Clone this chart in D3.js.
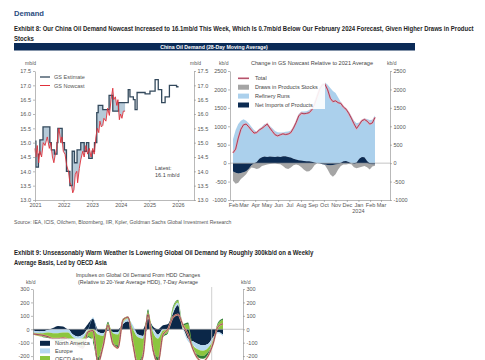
<!DOCTYPE html>
<html><head><meta charset="utf-8">
<script src="https://cdn.jsdelivr.net/npm/d3@7"></script>
<style>
body{margin:0;background:#fff}
svg{display:block;font-family:"Liberation Sans",Arial,sans-serif}
</style>
</head><body>
<svg id="c" width="485" height="360"></svg>
<script>
// ---------------- DATA ----------------
// Exhibit 8, left panel: China oil demand, mb/d
const estYears = [2021.00,2021.03,2021.12,2021.17,2021.28,2021.52,2021.57,2021.68,2021.77,2021.80,2021.95,
  2022.03,2022.10,2022.22,2022.30,2022.38,2022.47,2022.60,2022.72,2022.80,2022.88,
  2023.00,2023.08,2023.16,2023.21,2023.37,2023.59,2023.72,2023.92,
  2024.26,2024.32,2024.44,2024.50,2024.57,2024.85,
  2025.02,2025.20,2025.31,2025.43,2025.55,2025.70,2025.95,2026.02];
const estValues = [15.05,14.15,14.6,15.1,15.55,15.0,14.75,14.6,15.0,15.5,15.0,
  14.75,14.0,13.5,14.7,14.3,14.75,15.0,14.7,15.0,14.45,
  14.7,15.0,16.05,16.3,16.15,16.65,16.1,16.4,
  16.85,16.6,16.5,16.15,16.75,16.7,
  16.8,17.2,16.85,16.4,16.6,17.0,16.95,16.95];
const nowYears = [2021.00,2021.03,2021.08,2021.13,2021.17,2021.23,2021.29,2021.35,2021.43,2021.50,
  2021.55,2021.61,2021.66,2021.71,2021.76,2021.80,2021.84,2021.90,2021.94,2021.99,
  2022.05,2022.11,2022.17,2022.22,2022.28,2022.32,2022.36,2022.41,2022.46,2022.49,
  2022.55,2022.60,2022.67,2022.72,2022.78,2022.84,2022.90,2022.96,
  2023.02,2023.07,2023.13,2023.18,2023.23,2023.27,2023.32,2023.37,2023.41,2023.48,
  2023.54,2023.60,2023.66,2023.72,2023.75,2023.81,2023.86,2023.90,2023.95,2023.99,
  2024.04,2024.09,2024.15];
const nowValues = [14.8,14.5,14.9,14.3,14.7,14.5,15.0,14.9,15.2,14.8,
  15.0,14.5,14.3,14.6,14.8,15.3,15.5,15.0,15.2,14.7,
  14.6,14.2,14.0,13.6,13.5,13.25,13.35,13.9,14.0,13.6,
  14.1,14.4,14.7,14.5,14.9,14.6,14.8,14.5,
  14.8,14.6,15.2,15.5,15.35,15.75,15.55,15.6,15.85,15.75,
  16.2,15.95,16.5,16.9,16.5,16.6,16.3,16.5,15.8,16.0,
  15.85,16.1,16.1];
const leftYTicks = [13.0,13.5,14.0,14.5,15.0,15.5,16.0,16.5,17.0,17.5];
const leftXTicks = [2021,2022,2023,2024,2025,2026];

// Exhibit 8, right panel: change vs 2021 average, kb/d (weekly from 1 Feb 2023)
const chgStart = "2023-02-01";
const chgTotal = [280,380,680,920,1040,1060,985,895,815,830,
  900,945,1000,1060,955,860,770,740,770,795,
  775,790,830,950,1100,1280,1355,1340,1350,1370,
  1450,1590,1800,2010,2125,2140,1990,1760,1670,1690,
  1640,1620,1520,1465,1355,1220,1070,940,1040,1150,
  1185,1140,1060,1090,1240];
const chgRefinery = [650,900,1060,1150,1190,1150,1080,990,900,820,
  810,830,880,900,830,775,700,660,660,645,
  665,690,735,870,1050,1250,1330,1340,1360,1390,
  1470,1680,1900,2080,2170,2190,2130,2040,1960,1900,
  1780,1650,1500,1420,1370,1280,1150,1065,980,1005,
  1050,1140,1170,1180,1290];
const chgImports = [-230,-260,-280,-270,-250,-220,-150,-60,-10,30,
  120,160,180,170,180,175,170,180,170,185,
  190,170,150,120,100,80,70,60,50,50,
  40,20,0,-10,-30,-40,-50,-60,-50,-40,
  -20,10,50,60,30,0,-20,20,120,170,
  160,60,-20,-30,-30];
const chgDraws = [-250,-300,-250,-160,-120,-80,-40,-60,-120,-160,
  -140,-80,-60,-40,-20,-10,0,-20,-30,-80,
  -140,-160,-120,-60,-40,-60,-110,-180,-230,-220,
  -160,-60,0,0,0,-20,-120,-250,-320,-260,
  -150,-80,-40,-40,-20,-30,-90,-140,-120,-100,
  -80,-110,-150,-60,-40];
const chgYTicks = [-1000,-500,0,500,1000,1500,2000,2500];

// Exhibit 9: HDD impulses, kb/d (every 4 days)
const hddStart = "2023-10-01";
const hddNA = [-10,-15,-15,-5,10,25,20,0,-40,-55,
  -40,40,80,-20,-30,-10,-20,-20,40,60,
  0,-40,-50,80,20,-40,30,40,120,180,
  0,-70,-90,-110,-120,-110,-60,-20,-40];
const hddEurope = [-15,-15,-15,-20,-30,-30,-25,-25,-20,-20,
  -25,-10,10,-20,-20,5,-10,-20,10,20,
  30,-20,-20,10,-20,-30,-10,0,20,20,
  10,-20,-30,-40,-40,-30,-20,-10,-10];
const hddAsia = [-15,-20,-25,-30,-40,-50,-45,-40,-30,-40,
  -60,-40,-80,-170,-60,40,-70,-80,20,10,
  -100,-180,-100,40,-120,-140,-40,-20,20,15,
  20,40,-20,-40,-40,-30,-20,40,70];
const hddOther = [0,0,-5,-10,-10,-15,-15,-10,-10,-10,
  -15,-10,-20,-40,-20,10,-20,-20,10,5,
  -30,-50,-30,20,-30,-40,-10,-10,10,5,
  10,10,-10,-20,-20,-20,-10,10,10];
const hddTotal = [-35,-40,-45,-55,-70,-70,-65,-75,-95,-125,
  -140,-20,-10,-250,-130,30,-110,-140,70,90,
  -110,-280,-200,110,-150,-250,-40,0,90,110,
  30,-40,-150,-220,-240,-200,-110,20,40];
const hddYTicks = [-200,-100,0,100,200,300];

// ---------------- DRAW ----------------
const svg = d3.select("#c");
const FS = 5.5;
function text(x, y, s, o = {}) {
  const t = svg.append("text").attr("x", x).attr("y", y).text(s)
    .attr("font-size", o.size || FS).attr("fill", o.fill || "#444")
    .attr("text-anchor", o.anchor || "start");
  if (o.weight) t.attr("font-weight", o.weight);
  return t;
}
// bold heading squeezed horizontally to a target width
function fitText(x, y, s, width, size) {
  const t = svg.append("text").attr("x", x).attr("y", y).text(s)
    .attr("font-weight", "bold").attr("fill", "#1e1e1e").attr("font-size", size);
  const w = t.node().getComputedTextLength();
  if (w > width) t.attr("transform", `translate(${x},0) scale(${width / w},1) translate(${-x},0)`);
  return t;
}
function styleAxis(g) {
  g.selectAll("path,line").attr("stroke", "#8a8a8a").attr("stroke-width", 0.6);
  g.selectAll("text").attr("font-size", FS).attr("fill", "#555")
    .attr("font-family", '"Liberation Sans",Arial,sans-serif');
}

// Headings
text(14, 16, "Demand", {size: 7.6, weight: "bold", fill: "#2a4d7f"});
fitText(14, 31, "Exhibit 8: Our China Oil Demand Nowcast Increased to 16.1mb/d This Week, Which Is 0.7mb/d Below Our February 2024 Forecast, Given Higher Draws in Product", 460, 6.5);
fitText(14, 41, "Stocks", 20, 6.5);
svg.append("rect").attr("x", 14).attr("y", 43).attr("width", 401).attr("height", 7.5).attr("fill", "#0b2b57");
text(214, 48.8, "China Oil Demand (28-Day Moving Average)", {size: 5.2, weight: "bold", fill: "#fff", anchor: "middle"});

// ---- Left panel ----
const lx = d3.scaleLinear().domain([2021, 2026.56]).range([35, 194]);
const ly = d3.scaleLinear().domain([13, 17.5]).range([200, 71]);
const estData = estYears.map((y, i) => [y, estValues[i]]);
const nowData = nowYears.map((y, i) => [y, nowValues[i]]);

// fill between estimate (step) and nowcast
function estAt(x) { let v = estValues[0]; for (let i = 0; i < estYears.length; i++) { if (estYears[i] <= x) v = estValues[i]; } return v; }
function nowAt(x) {
  for (let i = 1; i < nowYears.length; i++) if (x <= nowYears[i]) {
    const t = (x - nowYears[i-1]) / (nowYears[i] - nowYears[i-1]);
    return nowValues[i-1] + t * (nowValues[i] - nowValues[i-1]);
  }
  return nowValues[nowValues.length - 1];
}
const x0 = nowYears[0], x1 = nowYears[nowYears.length - 1];
let xs = nowYears.slice();
estYears.forEach(e => { if (e > x0 && e < x1) { xs.push(e - 1e-6); xs.push(e); } });
xs.sort((a, b) => a - b);
const band = xs.map(x => ({x, e: estAt(x), n: nowAt(x)}));
svg.append("path").datum(band)
  .attr("d", d3.area().x(d => lx(d.x)).y0(d => ly(d.e)).y1(d => ly(d.n)))
  .attr("fill", "#a9c1d1").attr("opacity", 0.85);

svg.append("path").datum(estData)
  .attr("d", d3.line().x(d => lx(d[0])).y(d => ly(d[1])).curve(d3.curveStepAfter))
  .attr("fill", "none").attr("stroke", "#33495c").attr("stroke-width", 1.3);
svg.append("path").datum(nowData)
  .attr("d", d3.line().x(d => lx(d[0])).y(d => ly(d[1])))
  .attr("fill", "none").attr("stroke", "#e0303a").attr("stroke-width", 0.9);

styleAxis(svg.append("g").attr("transform", "translate(35,0)")
  .call(d3.axisLeft(ly).tickValues(leftYTicks).tickFormat(d3.format(".1f")).tickSize(2).tickSizeOuter(0).tickPadding(2)));
styleAxis(svg.append("g").attr("transform", "translate(194,0)")
  .call(d3.axisRight(ly).tickValues(leftYTicks).tickFormat(d3.format(".1f")).tickSize(2).tickSizeOuter(0).tickPadding(1.5)));
styleAxis(svg.append("g").attr("transform", "translate(0,200)")
  .call(d3.axisBottom(lx).tickValues(leftXTicks).tickFormat(d3.format("d")).tickSize(2).tickSizeOuter(0).tickPadding(1.5)));
text(25, 65, "mb/d", {size: 5, fill: "#555"});
text(190, 65, "mb/d", {size: 5, fill: "#555"});
// legend
svg.append("line").attr("x1", 40).attr("x2", 50).attr("y1", 77).attr("y2", 77).attr("stroke", "#33495c").attr("stroke-width", 1.3);
text(54, 79, "GS Estimate", {fill: "#555"});
svg.append("line").attr("x1", 40).attr("x2", 50).attr("y1", 85.5).attr("y2", 85.5).attr("stroke", "#e0303a").attr("stroke-width", 1);
text(54, 87.5, "GS Nowcast", {fill: "#555"});
text(155, 170, "Latest:", {fill: "#444"});
text(155, 177, "16.1 mb/d", {fill: "#444"});

// ---- Right panel ----
const parse = d3.timeParse("%Y-%m-%d");
const cStart = parse(chgStart);
const chgDates = chgTotal.map((_, i) => d3.timeDay.offset(cStart, 7 * i));
const rx = d3.scaleTime().domain([new Date(2023, 0, 24), new Date(2024, 2, 25)]).range([230, 390]);
const ry = d3.scaleLinear().domain([-1000, 2500]).range([200, 71]);
const rows = chgDates.map((d, i) => ({date: d, imports: chgImports[i], draws: chgDraws[i], refinery: chgRefinery[i]}));
const stack = d3.stack().keys(["imports", "draws", "refinery"]).offset(d3.stackOffsetDiverging)(rows);
const rColor = {imports: "#0c2b52", draws: "#a5a5a5", refinery: "#abd0ec"};
const rArea = d3.area().x(d => rx(d.data.date)).y0(d => ry(d[0])).y1(d => ry(d[1]));
["refinery", "draws", "imports"].forEach(k => {
  const s = stack.find(s => s.key === k);
  svg.append("path").datum(s).attr("d", rArea).attr("fill", rColor[k]);
});
svg.append("line").attr("x1", 230).attr("x2", 390).attr("y1", ry(0)).attr("y2", ry(0)).attr("stroke", "#9a9a9a").attr("stroke-width", 0.6);
const totLine = d3.line().x((d, i) => rx(chgDates[i])).y(d => ry(d));
svg.append("path").datum(chgTotal).attr("d", totLine).attr("fill", "none").attr("stroke", "#e8a9b6").attr("stroke-width", 2);
svg.append("path").datum(chgTotal).attr("d", totLine).attr("fill", "none").attr("stroke", "#9e3350").attr("stroke-width", 0.9);

styleAxis(svg.append("g").attr("transform", "translate(230,0)")
  .call(d3.axisLeft(ry).tickValues(chgYTicks).tickFormat(d => String(d)).tickSize(2).tickSizeOuter(0).tickPadding(1.5)));
styleAxis(svg.append("g").attr("transform", "translate(390,0)")
  .call(d3.axisRight(ry).tickValues(chgYTicks).tickFormat(d => String(d)).tickSize(2).tickSizeOuter(0).tickPadding(1.5)));
styleAxis(svg.append("g").attr("transform", "translate(0,200)")
  .call(d3.axisBottom(rx).ticks(d3.timeMonth.every(1)).tickFormat(d3.timeFormat("%b")).tickSize(2).tickSizeOuter(0).tickPadding(1.5)));
text(rx(new Date(2024, 0, 1)), 213, "2024", {fill: "#555", anchor: "middle"});
text(219, 65, "kb/d", {size: 5, fill: "#555"});
text(387, 65, "kb/d", {size: 5, fill: "#555"});
text(312, 65, "Change in GS Nowcast Relative to 2021 Average", {size: 5.6, fill: "#444", anchor: "middle"});
// legend
svg.append("rect").attr("x", 234).attr("y", 73).attr("width", 91).attr("height", 36).attr("fill", "#fff").attr("opacity", 0.9);
const rLeg = [["Total", "line"], ["Draws in Products Stocks", "draws"], ["Refinery Runs", "refinery"], ["Net Imports of Products", "imports"]];
rLeg.forEach((l, i) => {
  const cy = 78.3 + i * 8.9;
  if (l[1] === "line") {
    svg.append("line").attr("x1", 238).attr("x2", 249).attr("y1", cy).attr("y2", cy).attr("stroke", "#e8a9b6").attr("stroke-width", 2);
    svg.append("line").attr("x1", 238).attr("x2", 249).attr("y1", cy).attr("y2", cy).attr("stroke", "#9e3350").attr("stroke-width", 0.9);
  } else {
    svg.append("rect").attr("x", 238).attr("y", cy - 2.5).attr("width", 11).attr("height", 5).attr("fill", rColor[l[1]]);
  }
  text(255, cy + 2, l[0], {fill: "#444"});
});

text(14, 224, "Source: IEA, ICIS, Oilchem, Bloomberg, IIR, Kpler, Goldman Sachs Global Investment Research", {size: 5.1, fill: "#555"});

// ---- Exhibit 9 ----
fitText(14, 255, "Exhibit 9: Unseasonably Warm Weather Is Lowering Global Oil Demand by Roughly 300kb/d on a Weekly", 300, 6.5);
fitText(14, 265, "Average Basis, Led by OECD Asia", 93, 6.5);
text(138, 277, "Impulses on Global Oil Demand From HDD Changes", {size: 5.3, fill: "#444", anchor: "middle"});
text(138, 284, "(Relative to 20-Year Average HDD), 7-Day Average", {size: 5.3, fill: "#444", anchor: "middle"});
text(26, 284, "kb/d", {size: 5, fill: "#555"});
text(241, 284, "kb/d", {size: 5, fill: "#555"});

const hStart = parse(hddStart);
const hddDates = hddTotal.map((_, i) => d3.timeDay.offset(hStart, 4 * i));
const bx = d3.scaleTime().domain([hStart, d3.timeDay.offset(hStart, 168)]).range([33, 243]);
const by = d3.scaleLinear().domain([-300, 300]).range([369.5, 289]);
const hRows = hddDates.map((d, i) => ({date: d, na: hddNA[i], europe: hddEurope[i], asia: hddAsia[i], other: hddOther[i]}));
const hStack = d3.stack().keys(["na", "europe", "asia", "other"]).offset(d3.stackOffsetDiverging)(hRows);
const hColor = {na: "#0b2748", europe: "#b5d8f1", asia: "#8cc63f", other: "#2f7d34"};
const hArea = d3.area().x(d => bx(d.data.date)).y0(d => by(d[0])).y1(d => by(d[1])).curve(d3.curveMonotoneX);
hStack.forEach(s => svg.append("path").datum(s).attr("d", hArea).attr("fill", hColor[s.key]));
svg.append("line").attr("x1", 33).attr("x2", 243).attr("y1", by(0)).attr("y2", by(0)).attr("stroke", "#9a9a9a").attr("stroke-width", 0.6);
svg.append("line").attr("x1", 211.7).attr("x2", 211.7).attr("y1", 287).attr("y2", 370).attr("stroke", "#c4c4c4").attr("stroke-width", 0.8);
const hLine = d3.line().x((d, i) => bx(hddDates[i])).y(d => by(d)).curve(d3.curveMonotoneX);
svg.append("path").datum(hddTotal).attr("d", hLine).attr("fill", "none").attr("stroke", "#e6b58a").attr("stroke-width", 1.8);
svg.append("path").datum(hddTotal).attr("d", hLine).attr("fill", "none").attr("stroke", "#8e3b5a").attr("stroke-width", 0.9);

styleAxis(svg.append("g").attr("transform", "translate(33,0)")
  .call(d3.axisLeft(by).tickValues(hddYTicks).tickFormat(d => String(d)).tickSize(2).tickSizeOuter(0).tickPadding(1.5)));
styleAxis(svg.append("g").attr("transform", "translate(243,0)")
  .call(d3.axisRight(by).tickValues(hddYTicks).tickFormat(d => String(d)).tickSize(2).tickSizeOuter(0).tickPadding(1.5)));

svg.append("rect").attr("x", 37).attr("y", 338.5).attr("width", 56).attr("height", 25).attr("fill", "#fff").attr("opacity", 0.9);
[["North America", "na"], ["Europe", "europe"], ["OECD Asia", "asia"]].forEach((l, i) => {
  const cy = 343.3 + i * 7.6;
  svg.append("rect").attr("x", 40).attr("y", cy - 2.5).attr("width", 10).attr("height", 5).attr("fill", hColor[l[1]]);
  text(55, cy + 2, l[0], {fill: "#444"});
});
</script>
</body></html>
